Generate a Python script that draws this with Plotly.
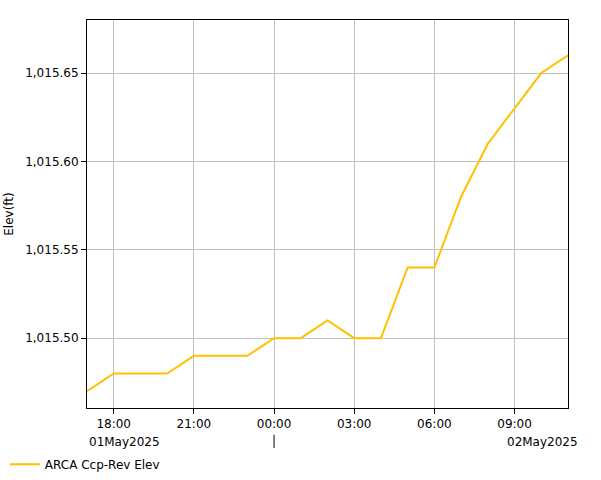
import plotly.graph_objects as go

times = ["2025-05-01 17:00", "2025-05-01 18:00", "2025-05-01 19:00", "2025-05-01 20:00",
         "2025-05-01 21:00", "2025-05-01 22:00", "2025-05-01 23:00", "2025-05-02 00:00",
         "2025-05-02 01:00", "2025-05-02 02:00", "2025-05-02 03:00", "2025-05-02 04:00",
         "2025-05-02 05:00", "2025-05-02 06:00", "2025-05-02 07:00", "2025-05-02 08:00",
         "2025-05-02 09:00", "2025-05-02 10:00", "2025-05-02 11:00"]
elev = [1015.47, 1015.48, 1015.48, 1015.48, 1015.49, 1015.49, 1015.49, 1015.50,
        1015.50, 1015.51, 1015.50, 1015.50, 1015.54, 1015.54, 1015.58, 1015.61,
        1015.63, 1015.65, 1015.66]
series_name = "ARCA Ccp-Rev Elev"
y_title = "Elev(ft)"
day_labels = ["01May2025", "02May2025"]
day_sep = "2025-05-02 00:00"

FONT = "DejaVu Sans"

fig = go.Figure()
fig.add_trace(go.Scatter(x=times, y=elev, mode="lines", name=series_name,
                         line=dict(color="#FFC000", width=2)))

fig.update_layout(
    width=601, height=480,
    margin=dict(l=87, r=33, t=20, b=72, autoexpand=False),
    paper_bgcolor="white", plot_bgcolor="white",
    font=dict(family=FONT, size=12, color="black"),
    showlegend=True,
    legend=dict(orientation="h", x=0.008, xref="container", y=0.033, yref="container",
                xanchor="left", yanchor="middle", font=dict(size=12, family=FONT),
                itemwidth=30),
    xaxis=dict(type="date", range=["2025-05-01 17:00", "2025-05-02 11:00"],
               tick0="2025-05-01 18:00", dtick=3 * 3600000, tickformat="%H:%M",
               showgrid=True, gridcolor="#C0C0C0", gridwidth=1, automargin=False,
               showline=True, linecolor="black", linewidth=1, mirror=True,
               ticks="outside", ticklen=5, tickcolor="black", zeroline=False),
    yaxis=dict(range=[1015.4605, 1015.68], dtick=0.05, tick0=1015.5, tickformat=",.2f",
               showgrid=True, gridcolor="#C0C0C0", gridwidth=1, automargin=False,
               showline=True, linecolor="black", linewidth=1, mirror=True,
               ticks="outside", ticklen=5, tickcolor="black", zeroline=False,
               title=dict(text=y_title, font=dict(size=12, family=FONT), standoff=8)),
)

fig.add_annotation(text=day_labels[0], xref="paper", yref="paper", x=0, y=-0.087,
                   xanchor="left", yanchor="middle", showarrow=False,
                   font=dict(size=12, family=FONT))
fig.add_annotation(text=day_labels[1], xref="paper", yref="paper", x=1.025, y=-0.087,
                   xanchor="right", yanchor="middle", showarrow=False,
                   font=dict(size=12, family=FONT))
fig.add_shape(type="line", xref="x", yref="paper", x0=day_sep, x1=day_sep,
              y0=-0.069, y1=-0.103, line=dict(color="black", width=1))

fig.write_html("out.html", config={"displayModeBar": False},
               post_script="document.body.style.margin='0';")
